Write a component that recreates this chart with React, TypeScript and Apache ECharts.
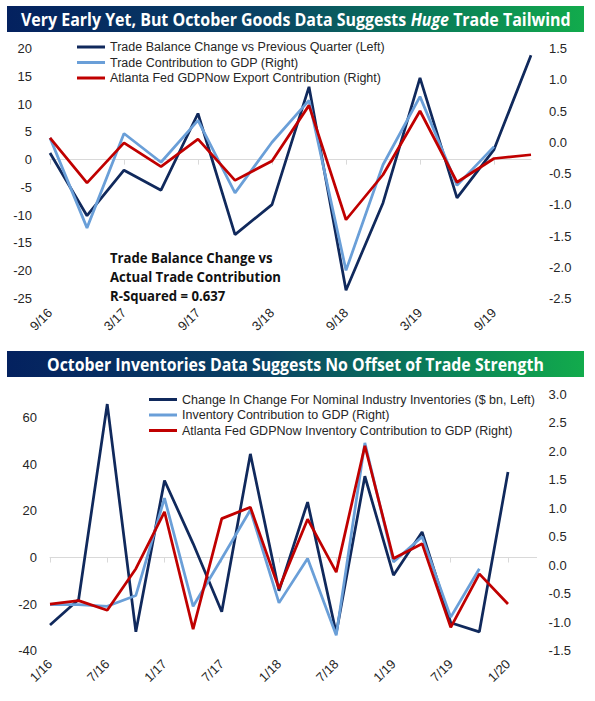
import React, { useEffect, useRef } from "react";
import * as echarts from "echarts";

// ---------- Data ----------
const topCategories = ["9/16", "12/16", "3/17", "6/17", "9/17", "12/17", "3/18", "6/18", "9/18", "12/18", "3/19", "6/19", "9/19", "12/19"];
const tradeBalanceChange = [1.2, -10.1, -1.9, -5.5, 8.3, -13.5, -8.1, 13.1, -23.5, -7.8, 14.7, -6.9, 1.8, 18.8];
const tradeContribution = [0.07, -1.37, 0.14, -0.32, 0.35, -0.81, 0.0, 0.67, -2.05, -0.36, 0.73, -0.69, -0.07, null];
const atlantaExportContribution = [0.07, -0.65, -0.01, -0.39, 0.05, -0.61, -0.3, 0.59, -1.24, -0.52, 0.5, -0.64, -0.26, -0.2];

const bottomCategories = ["1/16", "4/16", "7/16", "10/16", "1/17", "4/17", "7/17", "10/17", "1/18", "4/18", "7/18", "10/18", "1/19", "4/19", "7/19", "10/19", "1/20", "4/20"];
const inventoryChange = [-29, -18, 65.9, -31.9, 33.1, 6, -23.3, 44.5, -14.3, 23.8, -32.5, 34.9, -7.6, 11, -28, -31.9, 36.7, null];
const inventoryContribution = [-0.69, -0.69, -0.72, -0.53, 1.18, -0.72, 0.12, 0.97, -0.66, 0.12, -1.23, 2.15, 0.06, 0.5, -0.91, -0.06, null, null];
const atlantaInventoryContribution = [-0.68, -0.62, -0.79, -0.06, 0.94, -1.12, 0.82, 1.02, -0.41, 0.81, -0.12, 2.1, 0.12, 0.38, -1.09, -0.15, -0.68, null];

const topSeriesNames = [
  "Trade Balance Change vs Previous Quarter (Left)",
  "Trade Contribution to GDP (Right)",
  "Atlanta Fed GDPNow Export Contribution (Right)",
];
const bottomSeriesNames = [
  "Change In Change For Nominal Industry Inventories ($ bn, Left)",
  "Inventory Contribution to GDP (Right)",
  "Atlanta Fed GDPNow Inventory Contribution to GDP (Right)",
];
const topTitleParts = ["Very Early Yet, But October Goods Data Suggests ", "Huge", " Trade Tailwind"];
const bottomTitle = "October Inventories Data Suggests No Offset of Trade Strength";
const annotationLines = ["Trade Balance Change vs", "Actual Trade Contribution", "R-Squared = 0.637"];

// ---------- Styles ----------
const NAVY = "#10295c";
const LIGHT = "#6a9fd8";
const RED = "#c00000";
const AXIS_GRAY = "#d9d9d9";
const TEXT = "#262626";
const FONT = "Liberation Sans";
const TITLE_FONT = '"Open Sans"';

function measure(style: any): number {
  const t = new (echarts.graphic as any).Text({ style });
  return t.getBoundingRect().width;
}

export default function App() {
  const ref = useRef<HTMLDivElement>(null);

  useEffect(() => {
    const chart = echarts.init(ref.current!, null, { renderer: "svg" });

    const titleRich = {
      a: { fontFamily: TITLE_FONT, fontWeight: "bold", fontSize: 18, fill: "#fff", color: "#fff" },
      i: { fontFamily: TITLE_FONT, fontWeight: "bold", fontStyle: "italic", fontSize: 18, fill: "#fff", color: "#fff" },
    };
    const title1Text = `{a|${topTitleParts[0]}}{i|${topTitleParts[1]}}{a|${topTitleParts[2]}}`;
    const t1w = measure({ text: title1Text, rich: titleRich });
    const t1s = 550 / (t1w || 550);

    const title2Font = `bold 18px ${TITLE_FONT}`;
    const t2w = measure({ text: bottomTitle, font: title2Font });
    const t2s = 497 / (t2w || 497);

    const annFont = `bold 14px ${TITLE_FONT}`;
    const annW = measure({ text: annotationLines[1], font: annFont });
    const annS = 171 / (annW || 171);

    const gradient = () =>
      new echarts.graphic.LinearGradient(0, 0, 1, 0, [
        { offset: 0, color: "#04215f" },
        { offset: 0.45, color: "#0a4364" },
        { offset: 0.75, color: "#0a7f58" },
        { offset: 1, color: "#12ab4c" },
      ]);

    const axisLabelBase = { fontFamily: FONT, fontSize: 13, color: TEXT };

    const zeroAxis = (gridIndex: number, data: string[], yIdx: number) => ({
      gridIndex,
      type: "category",
      data,
      boundaryGap: false,
      position: "bottom",
      axisLine: { show: true, onZero: true, onZeroAxisIndex: yIdx, lineStyle: { color: AXIS_GRAY, width: 1 } },
      axisTick: { show: true, interval: 1, length: 5, lineStyle: { color: AXIS_GRAY } },
      axisLabel: { show: false },
      splitLine: { show: false },
    });
    const labelAxis = (gridIndex: number, data: string[], margin: number) => ({
      gridIndex,
      type: "category",
      data,
      boundaryGap: false,
      position: "bottom",
      axisLine: { show: false, onZero: false },
      axisTick: { show: false },
      axisLabel: { ...axisLabelBase, interval: 1, rotate: 45, margin },
      splitLine: { show: false },
    });

    const valueAxis = (gridIndex: number, position: string, min: number, max: number, interval: number, margin: number, formatter: (v: number) => string) => ({
      gridIndex,
      type: "value",
      position,
      min,
      max,
      interval,
      axisLine: { show: false },
      axisTick: { show: false },
      splitLine: { show: false },
      axisLabel: { ...axisLabelBase, margin, formatter },
    });

    const lineSeries = (name: string, data: (number | null)[], xAxisIndex: number, yAxisIndex: number, color: string, z: number) => ({
      name,
      type: "line",
      data,
      xAxisIndex,
      yAxisIndex,
      symbol: "none",
      connectNulls: false,
      lineStyle: { width: 2.75, color },
      itemStyle: { color },
      z,
    });

    const legendBase = {
      orient: "vertical",
      icon: "rect",
      itemWidth: 28,
      itemHeight: 3,
      itemGap: 0.5,
      selectedMode: false,
      textStyle: { fontFamily: FONT, fontSize: 12.5, color: TEXT, lineHeight: 15 },
    };

    const option: any = {
      animation: false,
      backgroundColor: "#ffffff",
      grid: [
        { left: 50, width: 481, top: 48.5, height: 250 },
        { left: 50, width: 486.6, top: 394.5, height: 256.2 },
      ],
      xAxis: [
        zeroAxis(0, topCategories, 0),
        labelAxis(0, topCategories, 12),
        zeroAxis(1, bottomCategories, 2),
        labelAxis(1, bottomCategories, 11),
      ],
      yAxis: [
        valueAxis(0, "left", -25, 20, 5, 18, (v) => String(v)),
        valueAxis(0, "right", -2.5, 1.5, 0.5, 18, (v) => v.toFixed(1)),
        valueAxis(1, "left", -40, 70, 20, 13, (v) => (v > 60 ? "" : String(v))),
        valueAxis(1, "right", -1.5, 3, 0.5, 12, (v) => v.toFixed(1)),
      ],
      legend: [
        { ...legendBase, data: topSeriesNames, left: 72, top: 34.5 },
        { ...legendBase, data: bottomSeriesNames, left: 144, top: 387 },
      ],
      series: [
        lineSeries(topSeriesNames[0], tradeBalanceChange, 0, 0, NAVY, 2),
        lineSeries(topSeriesNames[1], tradeContribution, 0, 1, LIGHT, 3),
        lineSeries(topSeriesNames[2], atlantaExportContribution, 0, 1, RED, 4),
        lineSeries(bottomSeriesNames[0], inventoryChange, 2, 2, NAVY, 2),
        lineSeries(bottomSeriesNames[1], inventoryContribution, 2, 3, LIGHT, 3),
        lineSeries(bottomSeriesNames[2], atlantaInventoryContribution, 2, 3, RED, 4),
      ],
      graphic: [
        { type: "rect", left: 7, top: 6, shape: { width: 577, height: 26 }, style: { fill: gradient() }, z: 1 },
        {
          type: "text",
          x: 21,
          y: 19.5,
          scaleX: t1s,
          z: 2,
          style: { text: title1Text, rich: titleRich, textAlign: "left", textVerticalAlign: "middle", fill: "#fff" },
        },
        { type: "rect", left: 7, top: 351, shape: { width: 577, height: 26 }, style: { fill: gradient() }, z: 1 },
        {
          type: "text",
          x: 47,
          y: 364.5,
          scaleX: t2s,
          z: 2,
          style: { text: bottomTitle, font: title2Font, fill: "#fff", textAlign: "left", textVerticalAlign: "middle" },
        },
        ...annotationLines.map((line, i) => ({
          type: "text",
          x: 110,
          y: 257 + i * 19,
          scaleX: annS,
          z: 5,
          style: { text: line, font: annFont, fill: "#111", textAlign: "left", textVerticalAlign: "middle" },
        })),
      ],
    };

    chart.setOption(option);
    return () => chart.dispose();
  }, []);

  return (
    <div
      ref={ref}
      style={{ position: "absolute", left: 0, top: 0, width: 595, height: 701, background: "#fff" }}
    />
  );
}
